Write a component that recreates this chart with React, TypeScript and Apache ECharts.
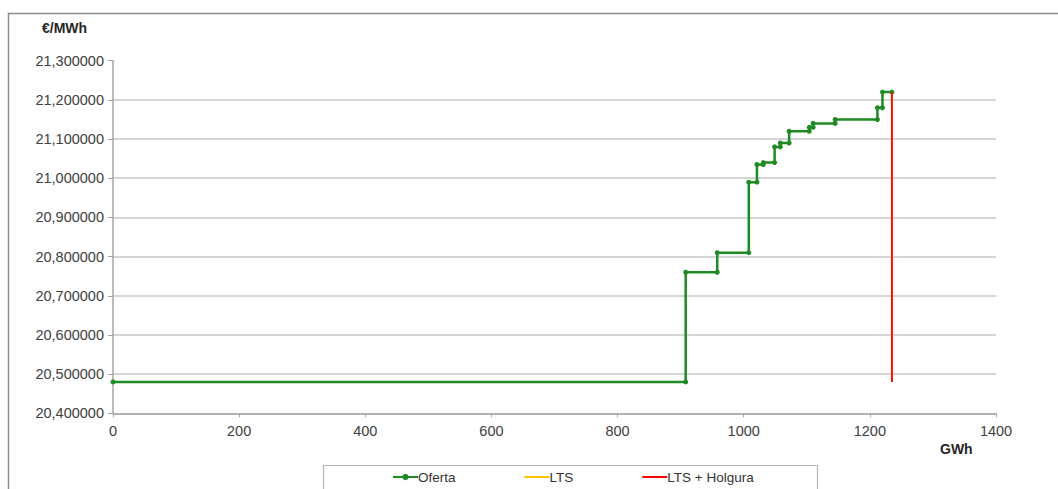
import React, { useEffect, useRef } from "react";
import * as echarts from "echarts";

// Step offer curve: breakpoints (GWh, cumulative) and price of each step (€/MWh)
const quantities = [0, 908, 958, 1008, 1021, 1031, 1049, 1058, 1072, 1104, 1110, 1145, 1212, 1220, 1235];
const prices = [20.48, 20.76, 20.81, 20.99, 21.035, 21.04, 21.08, 21.09, 21.12, 21.13, 21.14, 21.15, 21.18, 21.22];

// LTS and LTS + Holgura vertical lines
const ltsX = [1235, 1235];
const ltsY = [20.48, 21.22];
const holguraX = [1235, 1235];
const holguraY = [20.48, 21.22];

const xTicks = { min: 0, max: 1400, interval: 200 };
const yTicks = { min: 20.4, max: 21.3, interval: 0.1 };

const seriesNames = ["Oferta", "LTS", "LTS + Holgura"];

export default function App() {
  const ref = useRef<HTMLDivElement>(null);

  useEffect(() => {
    if (!ref.current) return;
    const chart = echarts.init(ref.current, undefined, { renderer: "svg" });

    const offerData: number[][] = [];
    for (let i = 0; i < prices.length; i++) {
      offerData.push([quantities[i], prices[i]]);
      offerData.push([quantities[i + 1], prices[i]]);
    }
    const ltsData = ltsX.map((x, i) => [x, ltsY[i]]);
    const holguraData = holguraX.map((x, i) => [x, holguraY[i]]);

    const font = "'Liberation Sans', Arial, sans-serif";
    const gridColors: string[] = [];
    const nLines = Math.round((yTicks.max - yTicks.min) / yTicks.interval) + 1;
    for (let i = 0; i < nLines; i++) gridColors.push(i === nLines - 1 ? "transparent" : "#d6d6d6");

    chart.setOption({
      animation: false,
      textStyle: { fontFamily: font },
      grid: { left: 113, right: 62, top: 60.7, bottom: 75.7 },
      xAxis: {
        type: "value",
        min: xTicks.min,
        max: xTicks.max,
        interval: xTicks.interval,
        axisLine: { show: true, lineStyle: { color: "#a6a6a6", width: 1.5 } },
        axisTick: { show: true, length: 4, lineStyle: { color: "#a6a6a6" } },
        axisLabel: {
          fontSize: 14.5,
          color: "#404040",
          margin: 10,
          fontFamily: font,
          formatter: (v: number) => String(Math.round(v)),
        },
        splitLine: { show: false },
      },
      yAxis: {
        type: "value",
        min: yTicks.min,
        max: yTicks.max,
        interval: yTicks.interval,
        axisLine: { show: true, lineStyle: { color: "#a6a6a6", width: 1.5 } },
        axisTick: { show: true, length: 5, lineStyle: { color: "#a6a6a6" } },
        axisLabel: {
          fontSize: 14.5,
          color: "#404040",
          margin: 9,
          fontFamily: font,
          formatter: (v: number) => v.toFixed(6).replace(".", ","),
        },
        splitLine: { show: true, lineStyle: { color: gridColors, width: 2 } },
      },
      legend: {
        data: [
          { name: seriesNames[0], itemStyle: { opacity: 1 } },
          { name: seriesNames[1], itemStyle: { opacity: 0 } },
          { name: seriesNames[2], itemStyle: { opacity: 0 } },
        ],
        left: 387,
        top: 465,
        itemWidth: 25,
        itemHeight: 8,
        itemGap: 68,
        textStyle: { fontSize: 13.5, color: "#333333", fontFamily: font, padding: [0, 0, 0, -5] },
      },
      graphic: [
        {
          type: "rect",
          shape: { x: 8.5, y: 13.5, width: 1100, height: 520 },
          style: { fill: "none", stroke: "#8c8c8c", lineWidth: 1.5 },
          silent: true,
        },
        {
          type: "rect",
          shape: { x: 323.5, y: 465.5, width: 494, height: 40 },
          style: { fill: "none", stroke: "#b4b4b4", lineWidth: 1.2 },
          silent: true,
        },
        {
          type: "text",
          x: 42,
          y: 21,
          style: { text: "€/MWh", font: `bold 14px ${font}`, fill: "#262626" },
        },
        {
          type: "text",
          x: 940,
          y: 442,
          style: { text: "GWh", font: `bold 14px ${font}`, fill: "#262626" },
        },
      ],
      series: [
        {
          name: seriesNames[0],
          type: "line",
          data: offerData,
          color: "#1f8b24",
          lineStyle: { width: 2.5, color: "#1f8b24" },
          itemStyle: { color: "#1f8b24" },
          symbol: "circle",
          symbolSize: 5,
          showSymbol: true,
          z: 2,
        },
        {
          name: seriesNames[1],
          type: "line",
          data: ltsData,
          color: "#ffc000",
          lineStyle: { width: 2, color: "#ffc000" },
          symbol: "none",
          z: 3,
        },
        {
          name: seriesNames[2],
          type: "line",
          data: holguraData,
          color: "#ff0000",
          lineStyle: { width: 1.8, color: "#ff0000" },
          symbol: "none",
          z: 4,
        },
      ],
    });

    return () => chart.dispose();
  }, []);

  return (
    <div
      ref={ref}
      style={{ position: "fixed", left: 0, top: 0, width: 1058, height: 489, background: "#ffffff" }}
    />
  );
}
